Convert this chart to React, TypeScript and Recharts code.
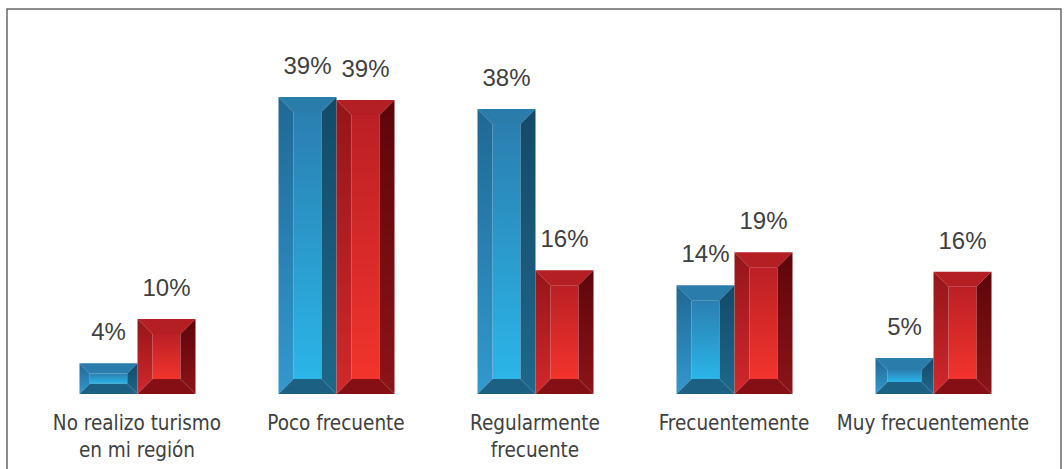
import React from 'react';
import { BarChart, Bar, XAxis, YAxis, LabelList } from 'recharts';

const categories = [
  'No realizo turismo\nen mi región',
  'Poco frecuente',
  'Regularmente\nfrecuente',
  'Frecuentemente',
  'Muy frecuentemente',
];
const blueValues = [4.1, 39.6, 38, 14.5, 4.8];
const redValues = [10, 39.2, 16.5, 18.9, 16.3];
const blueLabels = ['4%', '39%', '38%', '14%', '5%'];
const redLabels = ['10%', '39%', '16%', '19%', '16%'];

const chartData = categories.map((name, i) => ({
  name,
  blue: blueValues[i],
  red: redValues[i],
  blueLabel: blueLabels[i],
  redLabel: redLabels[i],
}));

const palettes: Record<string, any> = {
  blue: {
    top: '#2a7dab',
    leftA: '#1f6894',
    leftB: '#3399cf',
    frontA: '#2a7fb0',
    frontB: '#2bb5e8',
    rightA: '#134a69',
    rightB: '#1e6889',
    bottom: '#1c6183',
  },
  red: {
    top: '#b41f24',
    leftA: '#941519',
    leftB: '#d1282c',
    frontA: '#bb1f25',
    frontB: '#f2342c',
    rightA: '#5e050a',
    rightB: '#8c1418',
    bottom: '#841015',
  },
};

const BevelBar = (kind: string) => (props: any) => {
  const { x, y, width: w, height: h } = props;
  if (!h || h <= 0) return null;
  const p = palettes[kind];
  const b = Math.min(15, h / 3);
  const id = `${kind}-${Math.round(x)}`;
  return (
    <g>
      <defs>
        <linearGradient id={`${id}-f`} x1="0" y1="0" x2="0" y2="1">
          <stop offset="0%" stopColor={p.frontA} />
          <stop offset="100%" stopColor={p.frontB} />
        </linearGradient>
        <linearGradient id={`${id}-l`} x1="0" y1="0" x2="0" y2="1">
          <stop offset="0%" stopColor={p.leftA} />
          <stop offset="100%" stopColor={p.leftB} />
        </linearGradient>
        <linearGradient id={`${id}-r`} x1="0" y1="0" x2="0" y2="1">
          <stop offset="0%" stopColor={p.rightA} />
          <stop offset="100%" stopColor={p.rightB} />
        </linearGradient>
      </defs>
      <rect x={x + b} y={y + b} width={w - 2 * b} height={h - 2 * b} fill={`url(#${id}-f)`} />
      <polygon
        points={`${x},${y} ${x + w},${y} ${x + w - b},${y + b} ${x + b},${y + b}`}
        fill={p.top}
      />
      <polygon
        points={`${x},${y} ${x + b},${y + b} ${x + b},${y + h - b} ${x},${y + h}`}
        fill={`url(#${id}-l)`}
      />
      <polygon
        points={`${x + w},${y} ${x + w},${y + h} ${x + w - b},${y + h - b} ${x + w - b},${y + b}`}
        fill={`url(#${id}-r)`}
      />
      <polygon
        points={`${x},${y + h} ${x + b},${y + h - b} ${x + w - b},${y + h - b} ${x + w},${y + h}`}
        fill={p.bottom}
      />
    </g>
  );
};

const ValueLabel = (props: any) => {
  const { x, y, width, value } = props;
  return (
    <text
      x={x + width / 2}
      y={y - 23}
      textAnchor="middle"
      fontFamily="'Liberation Sans', Arial, sans-serif"
      fontSize={24}
      fill="#404040"
    >
      {value}
    </text>
  );
};

const CategoryTick = (props: any) => {
  const { x, y, payload } = props;
  const lines = String(payload.value).split('\n');
  return (
    <text
      x={x}
      y={y}
      textAnchor="middle"
      fontFamily="'Liberation Sans Narrow', 'Arial Narrow', 'DejaVu Sans Condensed', sans-serif"
      fontSize={20.5}
      fill="#404040"
    >
      {lines.map((line, i) => (
        <tspan key={i} x={x} y={y + 36 + i * 27}>
          {line}
        </tspan>
      ))}
    </text>
  );
};

const App: React.FC = () => {
  return (
    <div style={{ position: 'absolute', left: 0, top: 0, width: 1064, height: 469, background: '#fff' }}>
      <svg
        width={1064}
        height={469}
        style={{ position: 'absolute', left: 0, top: 0, pointerEvents: 'none' }}
      >
        <rect x={7} y={9} width={1054} height={480} fill="none" stroke="#505050" strokeWidth={1.3} />
      </svg>
      <BarChart
        width={1064}
        height={469}
        data={chartData}
        margin={{ top: 94, right: 31.5, bottom: 0, left: 37.5 }}
        barGap={0}
        barSize={58}
      >
        <XAxis
          dataKey="name"
          axisLine={false}
          tickLine={false}
          tickSize={0}
          tickMargin={0}
          height={75}
          interval={0}
          tick={<CategoryTick />}
        />
        <YAxis hide domain={[0, 40]} />
        <Bar dataKey="blue" isAnimationActive={false} shape={BevelBar('blue')}>
          <LabelList dataKey="blueLabel" content={<ValueLabel />} />
        </Bar>
        <Bar dataKey="red" isAnimationActive={false} shape={BevelBar('red')}>
          <LabelList dataKey="redLabel" content={<ValueLabel />} />
        </Bar>
      </BarChart>
    </div>
  );
};

export default App;
